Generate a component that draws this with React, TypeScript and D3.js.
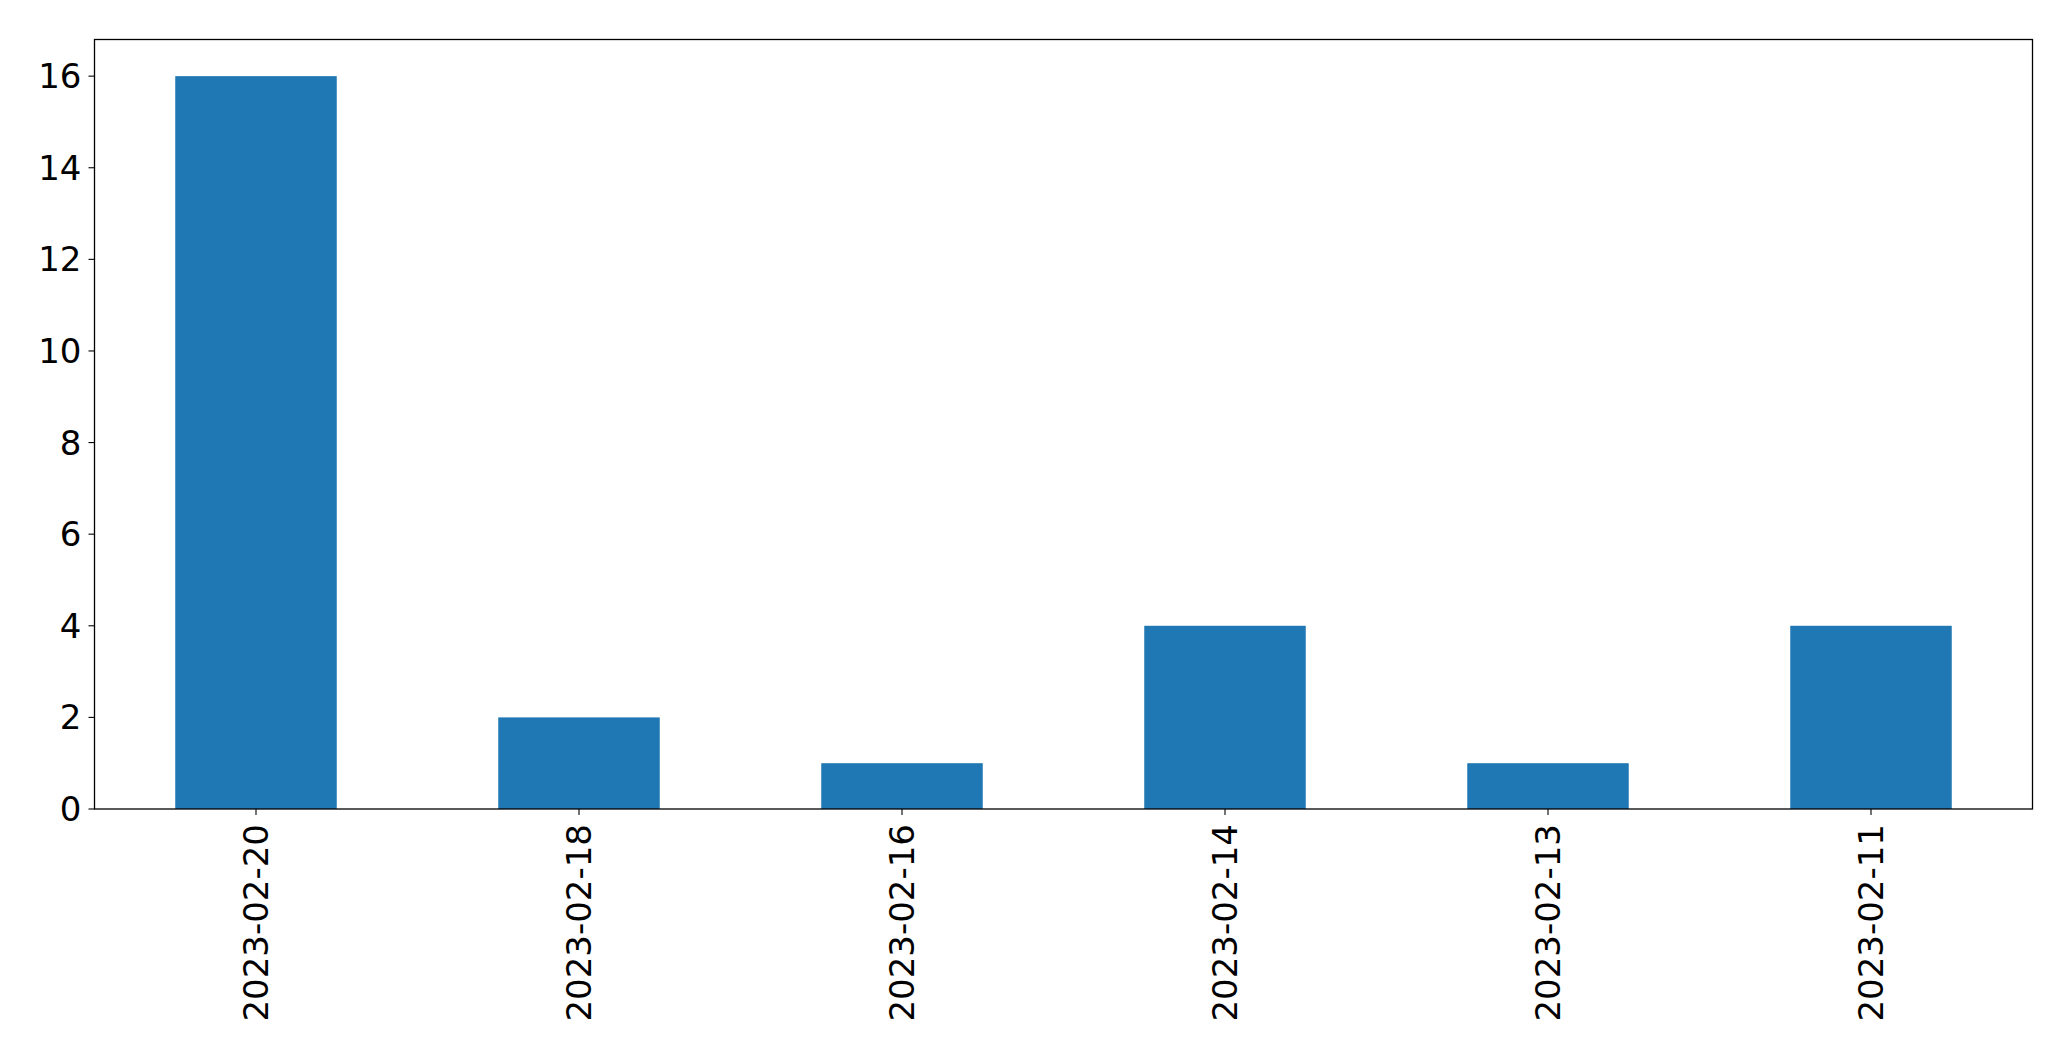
import React from "react";
import * as d3 from "d3";

const categories = ["2023-02-20", "2023-02-18", "2023-02-16", "2023-02-14", "2023-02-13", "2023-02-11"];
const values = [16, 2, 1, 4, 1, 4];
const yTicks = [0, 2, 4, 6, 8, 10, 12, 14, 16];

const W = 2071;
const H = 1061;
const margin = { left: 94.5, right: W - 2032.5, top: 39.5, bottom: H - 809 };
const FONT = "'DejaVu Sans', sans-serif";
const FS = 34;

export default function App() {
  const x = d3
    .scaleLinear()
    .domain([-0.5, categories.length - 0.5])
    .range([margin.left, W - margin.right]);
  const y = d3
    .scaleLinear()
    .domain([0, 16.8])
    .range([H - margin.bottom, margin.top]);
  const barW = x(0.25) - x(-0.25);
  const y0 = y(0);

  return (
    <svg
      width={W}
      height={H}
      style={{ position: "absolute", left: 0, top: 0, background: "#fff" }}
    >
      <rect x={0} y={0} width={W} height={H} fill="#fff" />
      {values.map((v, i) => (
        <rect
          key={i}
          x={x(i) - barW / 2}
          y={y(v)}
          width={barW}
          height={y0 - y(v)}
          fill="#1f77b4"
        />
      ))}
      <rect
        x={margin.left}
        y={margin.top}
        width={W - margin.right - margin.left}
        height={y0 - margin.top}
        fill="none"
        stroke="#000"
        strokeWidth={1.3}
      />
      {yTicks.map((t) => (
        <g key={t}>
          <line x1={margin.left - 6} x2={margin.left} y1={y(t)} y2={y(t)} stroke="#000" strokeWidth={1.1} />
          <text
            x={margin.left - 13}
            y={y(t)}
            textAnchor="end"
            dominantBaseline="central"
            fontFamily={FONT}
            fontSize={FS}
            fill="#000"
          >
            {t}
          </text>
        </g>
      ))}
      {categories.map((c, i) => (
        <g key={c}>
          <line x1={x(i)} x2={x(i)} y1={y0} y2={y0 + 6} stroke="#000" strokeWidth={1.1} />
          <text
            transform={`translate(${x(i)},${y0 + 15}) rotate(-90)`}
            textAnchor="end"
            dominantBaseline="central"
            fontFamily={FONT}
            fontSize={FS}
            fill="#000"
          >
            {c}
          </text>
        </g>
      ))}
    </svg>
  );
}
